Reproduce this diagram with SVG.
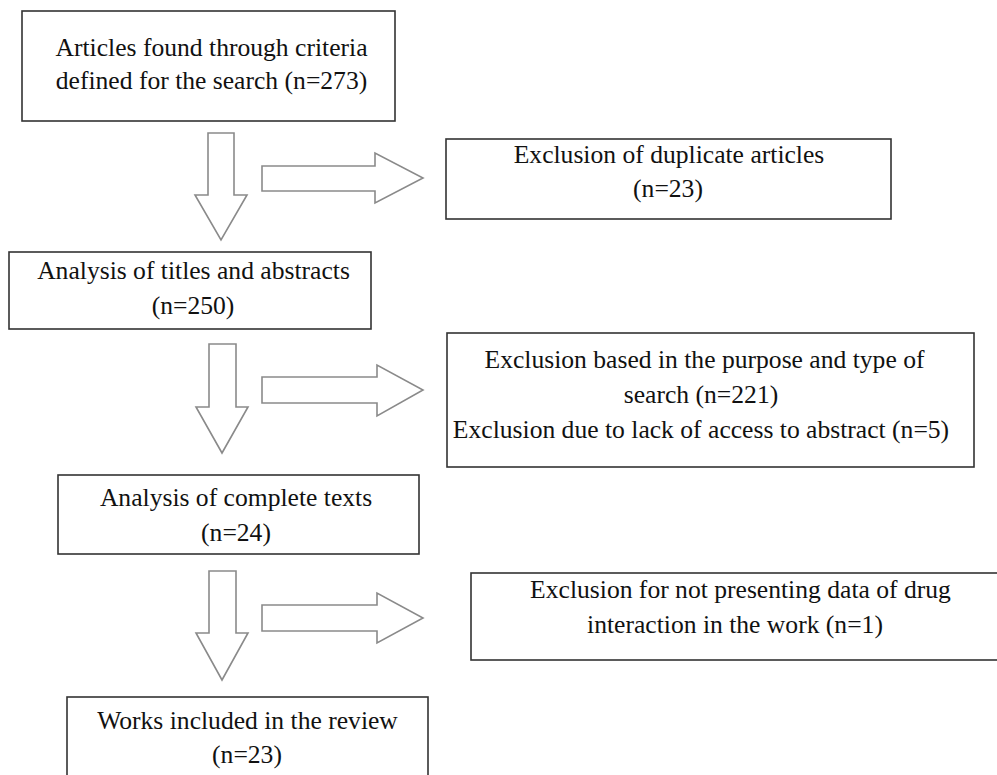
<svg xmlns="http://www.w3.org/2000/svg" width="997" height="775" viewBox="0 0 997 775">
<style>
.box{fill:#fff;stroke:#333;stroke-width:1.6}
.arr{fill:#fff;stroke:#8a8a8a;stroke-width:1.6;stroke-linejoin:miter}
</style>
<rect x="0" y="0" width="997" height="775" fill="#fff"/>
<g id="connectors">
<path class="arr" d="M208,133 H234 V195 H247 L221,240 L195,195 H208 Z"/>
<path class="arr" d="M209,344 H236 V407 H248 L222,453 L196,407 H209 Z"/>
<path class="arr" d="M209,571 H236 V633 H248 L222,680 L196,633 H209 Z"/>
<path class="arr" d="M262,166 H375 V153 L423,178 L375,203 V191 H262 Z"/>
<path class="arr" d="M262,377 H377 V365 L423,390 L377,416 V403 H262 Z"/>
<path class="arr" d="M262,605 H377 V593 L423,618 L377,643 V631 H262 Z"/>
</g>
<g font-family="Liberation Serif, serif" font-size="25.6" fill="#111" text-anchor="middle">
<g id="n1">
<rect class="box" x="22" y="11" width="373" height="110"/>
<text x="211.5" y="56">Articles found through criteria</text>
<text x="211.5" y="89">defined for the search (n=273)</text>
</g>
<g id="n2">
<rect class="box" x="446" y="139" width="445" height="80"/>
<text x="669" y="163">Exclusion of duplicate articles</text>
<text x="668" y="197">(n=23)</text>
</g>
<g id="n3">
<rect class="box" x="9" y="252" width="362" height="77"/>
<text x="193.5" y="279">Analysis of titles and abstracts</text>
<text x="193" y="314">(n=250)</text>
</g>
<g id="n4">
<rect class="box" x="447" y="333" width="527" height="134"/>
<text x="704.5" y="368">Exclusion based in the purpose and type of</text>
<text x="701" y="403">search (n=221)</text>
<text x="701" y="438">Exclusion due to lack of access to abstract (n=5)</text>
</g>
<g id="n5">
<rect class="box" x="58" y="475" width="361" height="79"/>
<text x="236" y="506">Analysis of complete texts</text>
<text x="236" y="541">(n=24)</text>
</g>
<g id="n6">
<rect class="box" x="471" y="573" width="530" height="87"/>
<text x="740.5" y="598">Exclusion for not presenting data of drug</text>
<text x="735" y="633">interaction in the work (n=1)</text>
</g>
<g id="n7">
<rect class="box" x="67" y="697" width="361" height="90"/>
<text x="247.5" y="729">Works included in the review</text>
<text x="247" y="763">(n=23)</text>
</g>
</g>
</svg>
